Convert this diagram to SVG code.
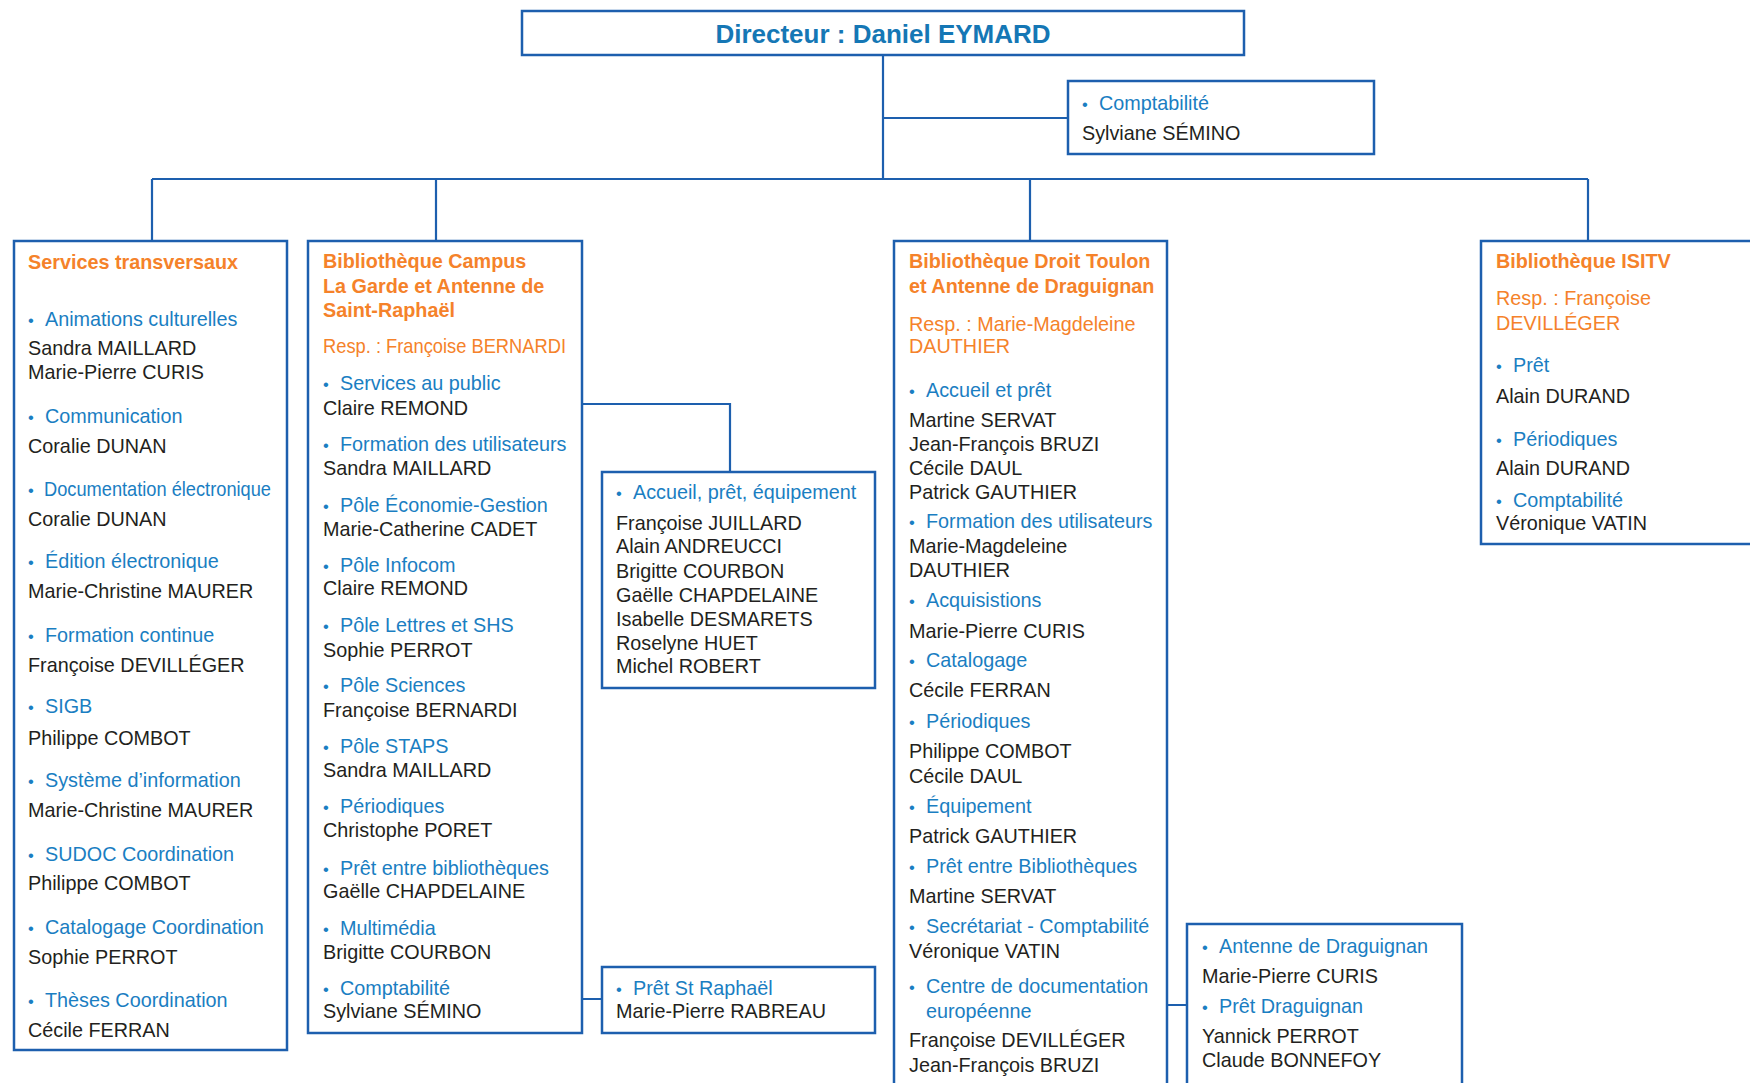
<svg xmlns="http://www.w3.org/2000/svg" width="1750" height="1083" viewBox="0 0 1750 1083">
<style>
text{font-family:"Liberation Sans",Arial,sans-serif;font-size:19.8px}
.box{fill:#fff;stroke:#1D5FAE;stroke-width:2.5}
.ln{fill:none;stroke:#1D5FAE;stroke-width:2.2}
.t{fill:#F5822A;font-weight:bold}
.r{fill:#F5822A}
.b{fill:#1A7EC2}
.n{fill:#231F20}
.d{font-size:16.5px}
.dir{fill:#1577B5;font-weight:bold;font-size:26px}
</style>
<rect width="1750" height="1083" fill="#fff"/>
<g id="connectors">
<path class="ln" d="M883 55V179M883 118H1068M152 179H1588M152 179V241M436 179V241M1030 179V241M1588 179V241"/>
<path class="ln" d="M582 404H730V472M582 999H602M1167 1005H1187"/>
</g>
<g id="director">
<rect class="box" x="522" y="11" width="722" height="44"/>
<text class="dir" x="883" y="43" text-anchor="middle">Directeur : Daniel EYMARD</text>
</g>
<g id="comptabilite">
<rect class="box" x="1068" y="81" width="306" height="73"/>
<text class="b" x="1082" y="110"><tspan class="d">•</tspan><tspan x="1099">Comptabilité</tspan></text>
<text class="n" x="1082" y="140">Sylviane SÉMINO</text>
</g>
<g id="services-transversaux">
<rect class="box" x="14" y="241" width="273" height="809"/>
<text class="t" x="28" y="269">Services transversaux</text>
<text class="b" x="28" y="326"><tspan class="d">•</tspan><tspan x="45">Animations culturelles</tspan></text>
<text class="n" x="28" y="355">Sandra MAILLARD</text>
<text class="n" x="28" y="379">Marie-Pierre CURIS</text>
<text class="b" x="28" y="423"><tspan class="d">•</tspan><tspan x="45">Communication</tspan></text>
<text class="n" x="28" y="453">Coralie DUNAN</text>
<text class="b" x="28" y="496"><tspan class="d">•</tspan><tspan x="44" textLength="227" lengthAdjust="spacingAndGlyphs">Documentation électronique</tspan></text>
<text class="n" x="28" y="526">Coralie DUNAN</text>
<text class="b" x="28" y="568"><tspan class="d">•</tspan><tspan x="45">Édition électronique</tspan></text>
<text class="n" x="28" y="598">Marie-Christine MAURER</text>
<text class="b" x="28" y="642"><tspan class="d">•</tspan><tspan x="45">Formation continue</tspan></text>
<text class="n" x="28" y="672">Françoise DEVILLÉGER</text>
<text class="b" x="28" y="713"><tspan class="d">•</tspan><tspan x="45">SIGB</tspan></text>
<text class="n" x="28" y="745">Philippe COMBOT</text>
<text class="b" x="28" y="787"><tspan class="d">•</tspan><tspan x="45">Système d’information</tspan></text>
<text class="n" x="28" y="817">Marie-Christine MAURER</text>
<text class="b" x="28" y="861"><tspan class="d">•</tspan><tspan x="45">SUDOC Coordination</tspan></text>
<text class="n" x="28" y="890">Philippe COMBOT</text>
<text class="b" x="28" y="934"><tspan class="d">•</tspan><tspan x="45">Catalogage Coordination</tspan></text>
<text class="n" x="28" y="964">Sophie PERROT</text>
<text class="b" x="28" y="1007"><tspan class="d">•</tspan><tspan x="45">Thèses Coordination</tspan></text>
<text class="n" x="28" y="1037">Cécile FERRAN</text>
</g>
<g id="campus">
<rect class="box" x="308" y="241" width="274" height="792"/>
<text class="t" x="323" y="268">Bibliothèque Campus</text>
<text class="t" x="323" y="293">La Garde et Antenne de</text>
<text class="t" x="323" y="317">Saint-Raphaël</text>
<text class="r" x="323" y="353" textLength="243" lengthAdjust="spacingAndGlyphs">Resp. : Françoise BERNARDI</text>
<text class="b" x="323" y="390"><tspan class="d">•</tspan><tspan x="340">Services au public</tspan></text>
<text class="n" x="323" y="415">Claire REMOND</text>
<text class="b" x="323" y="451"><tspan class="d">•</tspan><tspan x="340">Formation des utilisateurs</tspan></text>
<text class="n" x="323" y="475">Sandra MAILLARD</text>
<text class="b" x="323" y="512"><tspan class="d">•</tspan><tspan x="340">Pôle Économie-Gestion</tspan></text>
<text class="n" x="323" y="536">Marie-Catherine CADET</text>
<text class="b" x="323" y="572"><tspan class="d">•</tspan><tspan x="340">Pôle Infocom</tspan></text>
<text class="n" x="323" y="595">Claire REMOND</text>
<text class="b" x="323" y="632"><tspan class="d">•</tspan><tspan x="340">Pôle Lettres et SHS</tspan></text>
<text class="n" x="323" y="657">Sophie PERROT</text>
<text class="b" x="323" y="692"><tspan class="d">•</tspan><tspan x="340">Pôle Sciences</tspan></text>
<text class="n" x="323" y="717">Françoise BERNARDI</text>
<text class="b" x="323" y="753"><tspan class="d">•</tspan><tspan x="340">Pôle STAPS</tspan></text>
<text class="n" x="323" y="777">Sandra MAILLARD</text>
<text class="b" x="323" y="813"><tspan class="d">•</tspan><tspan x="340">Périodiques</tspan></text>
<text class="n" x="323" y="837">Christophe PORET</text>
<text class="b" x="323" y="875"><tspan class="d">•</tspan><tspan x="340">Prêt entre bibliothèques</tspan></text>
<text class="n" x="323" y="898">Gaëlle CHAPDELAINE</text>
<text class="b" x="323" y="935"><tspan class="d">•</tspan><tspan x="340">Multimédia</tspan></text>
<text class="n" x="323" y="959">Brigitte COURBON</text>
<text class="b" x="323" y="995"><tspan class="d">•</tspan><tspan x="340">Comptabilité</tspan></text>
<text class="n" x="323" y="1018">Sylviane SÉMINO</text>
</g>
<g id="accueil-campus">
<rect class="box" x="602" y="472" width="273" height="216"/>
<text class="b" x="616" y="499"><tspan class="d">•</tspan><tspan x="633">Accueil, prêt, équipement</tspan></text>
<text class="n" x="616" y="530">Françoise JUILLARD</text>
<text class="n" x="616" y="553">Alain ANDREUCCI</text>
<text class="n" x="616" y="578">Brigitte COURBON</text>
<text class="n" x="616" y="602">Gaëlle CHAPDELAINE</text>
<text class="n" x="616" y="626">Isabelle DESMARETS</text>
<text class="n" x="616" y="650">Roselyne HUET</text>
<text class="n" x="616" y="673">Michel ROBERT</text>
</g>
<g id="pret-st-raphael">
<rect class="box" x="602" y="967" width="273" height="66"/>
<text class="b" x="616" y="995"><tspan class="d">•</tspan><tspan x="633">Prêt St Raphaël</tspan></text>
<text class="n" x="616" y="1018">Marie-Pierre RABREAU</text>
</g>
<g id="droit-toulon">
<rect class="box" x="894" y="241" width="273" height="870"/>
<text class="t" x="909" y="268">Bibliothèque Droit Toulon</text>
<text class="t" x="909" y="293">et Antenne de Draguignan</text>
<text class="r" x="909" y="331">Resp. : Marie-Magdeleine</text>
<text class="r" x="909" y="353">DAUTHIER</text>
<text class="b" x="909" y="397"><tspan class="d">•</tspan><tspan x="926">Accueil et prêt</tspan></text>
<text class="n" x="909" y="427">Martine SERVAT</text>
<text class="n" x="909" y="451">Jean-François BRUZI</text>
<text class="n" x="909" y="475">Cécile DAUL</text>
<text class="n" x="909" y="499">Patrick GAUTHIER</text>
<text class="b" x="909" y="528"><tspan class="d">•</tspan><tspan x="926">Formation des utilisateurs</tspan></text>
<text class="n" x="909" y="553">Marie-Magdeleine</text>
<text class="n" x="909" y="577">DAUTHIER</text>
<text class="b" x="909" y="607"><tspan class="d">•</tspan><tspan x="926">Acquisistions</tspan></text>
<text class="n" x="909" y="638">Marie-Pierre CURIS</text>
<text class="b" x="909" y="667"><tspan class="d">•</tspan><tspan x="926">Catalogage</tspan></text>
<text class="n" x="909" y="697">Cécile FERRAN</text>
<text class="b" x="909" y="728"><tspan class="d">•</tspan><tspan x="926">Périodiques</tspan></text>
<text class="n" x="909" y="758">Philippe COMBOT</text>
<text class="n" x="909" y="783">Cécile DAUL</text>
<text class="b" x="909" y="813"><tspan class="d">•</tspan><tspan x="926">Équipement</tspan></text>
<text class="n" x="909" y="843">Patrick GAUTHIER</text>
<text class="b" x="909" y="873"><tspan class="d">•</tspan><tspan x="926">Prêt entre Bibliothèques</tspan></text>
<text class="n" x="909" y="903">Martine SERVAT</text>
<text class="b" x="909" y="933"><tspan class="d">•</tspan><tspan x="926">Secrétariat - Comptabilité</tspan></text>
<text class="n" x="909" y="958">Véronique VATIN</text>
<text class="b" x="909" y="993"><tspan class="d">•</tspan><tspan x="926">Centre de documentation</tspan></text>
<text class="b" x="926" y="1018">européenne</text>
<text class="n" x="909" y="1047">Françoise DEVILLÉGER</text>
<text class="n" x="909" y="1072">Jean-François BRUZI</text>
</g>
<g id="antenne-draguignan">
<rect class="box" x="1187" y="924" width="275" height="190"/>
<text class="b" x="1202" y="953"><tspan class="d">•</tspan><tspan x="1219">Antenne de Draguignan</tspan></text>
<text class="n" x="1202" y="983">Marie-Pierre CURIS</text>
<text class="b" x="1202" y="1013"><tspan class="d">•</tspan><tspan x="1219">Prêt Draguignan</tspan></text>
<text class="n" x="1202" y="1043">Yannick PERROT</text>
<text class="n" x="1202" y="1067">Claude BONNEFOY</text>
</g>
<g id="isitv">
<rect class="box" x="1481" y="241" width="290" height="303"/>
<text class="t" x="1496" y="268">Bibliothèque ISITV</text>
<text class="r" x="1496" y="305">Resp. : Françoise</text>
<text class="r" x="1496" y="330">DEVILLÉGER</text>
<text class="b" x="1496" y="372"><tspan class="d">•</tspan><tspan x="1513">Prêt</tspan></text>
<text class="n" x="1496" y="403">Alain DURAND</text>
<text class="b" x="1496" y="446"><tspan class="d">•</tspan><tspan x="1513">Périodiques</tspan></text>
<text class="n" x="1496" y="475">Alain DURAND</text>
<text class="b" x="1496" y="507"><tspan class="d">•</tspan><tspan x="1513">Comptabilité</tspan></text>
<text class="n" x="1496" y="530">Véronique VATIN</text>
</g>
</svg>
